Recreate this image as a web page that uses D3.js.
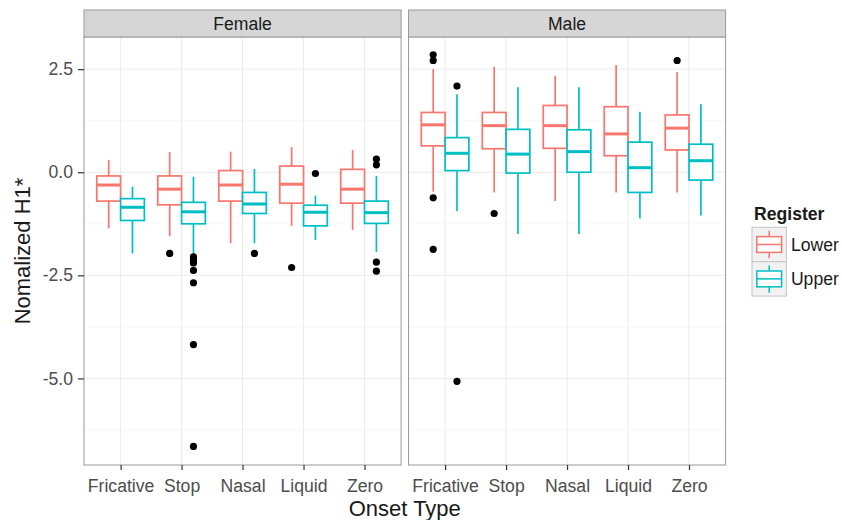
<!DOCTYPE html>
<html>
<head>
<meta charset="utf-8">
<script src="https://cdn.jsdelivr.net/npm/d3@7"></script>
<style>
  body { margin: 0; background: #fff; }
  svg { display: block; font-family: 'Liberation Sans', Arial, Helvetica, sans-serif; }
</style>
</head>
<body>
<div id="chart"></div>
<script>
const sexes = ['Female', 'Male'];
const onsets = ['Fricative', 'Stop', 'Nasal', 'Liquid', 'Zero'];
const registers = ['Lower', 'Upper'];
const colors = ['#F8766D', '#00BFC4'];
const yTicks = [-5, -2.5, 0, 2.5];
const yMinor = [-6.25, -3.75, -1.25, 1.25];

// [lower whisker, Q1, median, Q3, upper whisker], one row per onset type
const femaleLower = [
  [-1.36, -0.70, -0.31, -0.09, 0.30],
  [-1.55, -0.79, -0.41, -0.09, 0.49],
  [-1.72, -0.70, -0.31, 0.04, 0.50],
  [-1.30, -0.75, -0.29, 0.15, 0.61],
  [-1.40, -0.75, -0.41, 0.07, 0.54],
];
const femaleUpper = [
  [-1.97, -1.17, -0.85, -0.64, -0.35],
  [-2.00, -1.25, -0.96, -0.73, -0.11],
  [-1.72, -1.00, -0.77, -0.49, 0.08],
  [-1.64, -1.30, -0.97, -0.80, -0.57],
  [-1.93, -1.24, -0.98, -0.70, -0.09],
];
const maleLower = [
  [-0.47, 0.64, 1.15, 1.45, 2.50],
  [-0.49, 0.57, 1.13, 1.45, 2.56],
  [-0.70, 0.58, 1.13, 1.62, 2.34],
  [-0.49, 0.40, 0.93, 1.59, 2.60],
  [-0.49, 0.54, 1.07, 1.39, 2.43],
];
const maleUpper = [
  [-0.94, 0.04, 0.46, 0.84, 1.89],
  [-1.50, -0.02, 0.44, 1.04, 2.06],
  [-1.50, 0.00, 0.50, 1.03, 2.06],
  [-1.12, -0.49, 0.11, 0.73, 1.47],
  [-1.05, -0.19, 0.28, 0.68, 1.65],
];

// outliers per onset type
const femaleLowerOut = [[], [-1.97], [], [-2.31], []];
const femaleUpperOut = [[], [-2.05, -2.1, -2.15, -2.2, -2.38, -2.68, -4.18, -6.65], [-1.97], [-0.03], [0.32, 0.18, -2.18, -2.40]];
const maleLowerOut = [[2.85, 2.71, -0.62, -1.87], [-1.0], [], [], [2.71]];
const maleUpperOut = [[2.09, -5.07], [], [], [], []];

const stats = { Female: [femaleLower, femaleUpper], Male: [maleLower, maleUpper] };
const outs = { Female: [femaleLowerOut, femaleUpperOut], Male: [maleLowerOut, maleUpperOut] };

const w = 842;
const h = 520;
const panelTop = 37;
const panelBottom = 465;
const stripTop = 10;
const font = 17.6;
const textCol = '#4d4d4d';

const svg = d3.select('#chart').append('svg').attr('width', w).attr('height', h);

const facet = d3.scaleBand().domain(sexes).range([84, 725.6]).paddingInner(0.0228);
const pw = facet.bandwidth();
const y = d3.scaleLinear().domain([-7.1, 3.28]).range([panelBottom, panelTop]);
const x = d3.scalePoint().domain(onsets).range([0, pw]).padding(0.6);
const boxW = (x.step() * 0.78) / 2;
const off = i => (i - 0.5) * boxW;

sexes.forEach(sex => {
  const g = svg.append('g').attr('transform', 'translate(' + facet(sex) + ',0)');

  // grid
  g.selectAll('.minor')
    .data(yMinor)
    .join('line')
    .attr('x1', 0).attr('x2', pw)
    .attr('y1', d => y(d)).attr('y2', d => y(d))
    .attr('stroke', '#f5f5f5').attr('stroke-width', 0.8);
  g.selectAll('.major')
    .data(yTicks)
    .join('line')
    .attr('x1', 0).attr('x2', pw)
    .attr('y1', d => y(d)).attr('y2', d => y(d))
    .attr('stroke', '#ebebeb').attr('stroke-width', 1);
  g.selectAll('.vmajor')
    .data(onsets)
    .join('line')
    .attr('x1', d => x(d)).attr('x2', d => x(d))
    .attr('y1', panelTop).attr('y2', panelBottom)
    .attr('stroke', '#ebebeb').attr('stroke-width', 1);

  registers.forEach((reg, ri) => {
    const color = colors[ri];
    const rows = onsets.map((o, oi) => ({
      cx: x(o) + off(ri),
      s: stats[sex][ri][oi],
      out: outs[sex][ri][oi],
    }));
    const bg = g.append('g').attr('class', 'box ' + reg);

    bg.selectAll('.whisker-lo')
      .data(rows)
      .join('line')
      .attr('x1', d => d.cx).attr('x2', d => d.cx)
      .attr('y1', d => y(d.s[0])).attr('y2', d => y(d.s[1]))
      .attr('stroke', color).attr('stroke-width', 1.7);
    bg.selectAll('.whisker-hi')
      .data(rows)
      .join('line')
      .attr('x1', d => d.cx).attr('x2', d => d.cx)
      .attr('y1', d => y(d.s[3])).attr('y2', d => y(d.s[4]))
      .attr('stroke', color).attr('stroke-width', 1.7);
    bg.selectAll('rect')
      .data(rows)
      .join('rect')
      .attr('x', d => d.cx - boxW / 2)
      .attr('width', boxW)
      .attr('y', d => y(d.s[3]))
      .attr('height', d => y(d.s[1]) - y(d.s[3]))
      .attr('fill', '#fff')
      .attr('stroke', color).attr('stroke-width', 1.7);
    bg.selectAll('.median')
      .data(rows)
      .join('line')
      .attr('x1', d => d.cx - boxW / 2).attr('x2', d => d.cx + boxW / 2)
      .attr('y1', d => y(d.s[2])).attr('y2', d => y(d.s[2]))
      .attr('stroke', color).attr('stroke-width', 3);
    bg.selectAll('circle')
      .data(rows.flatMap(d => d.out.map(v => ({ cx: d.cx, v }))))
      .join('circle')
      .attr('cx', d => d.cx)
      .attr('cy', d => y(d.v))
      .attr('r', 3.6)
      .attr('fill', '#000');
  });

  // panel border
  g.append('rect')
    .attr('x', 0).attr('y', panelTop)
    .attr('width', pw).attr('height', panelBottom - panelTop)
    .attr('fill', 'none').attr('stroke', '#9a9a9a').attr('stroke-width', 1);

  // strip
  g.append('rect')
    .attr('x', 0).attr('y', stripTop)
    .attr('width', pw).attr('height', panelTop - stripTop)
    .attr('fill', '#d6d6d6').attr('stroke', '#9a9a9a').attr('stroke-width', 1);
  g.append('text')
    .attr('x', pw / 2).attr('y', (stripTop + panelTop) / 2)
    .attr('dy', '0.35em')
    .attr('text-anchor', 'middle')
    .attr('font-size', font)
    .attr('fill', '#1a1a1a')
    .text(sex);

  // x axis
  g.append('g')
    .attr('transform', 'translate(0,' + panelBottom + ')')
    .call(d3.axisBottom(x).tickSize(5).tickSizeOuter(0).tickPadding(10))
    .call(a => a.select('.domain').remove())
    .call(a => a.selectAll('line').attr('stroke', '#333').attr('stroke-width', 1.2))
    .call(a => a.selectAll('text').attr('font-size', font).attr('fill', textCol).attr('font-family', null));
});

// y axis
svg.append('g')
  .attr('transform', 'translate(' + facet('Female') + ',0)')
  .call(d3.axisLeft(y).tickValues(yTicks).tickFormat(d => d.toFixed(1)).tickSize(6).tickPadding(5))
  .call(a => a.select('.domain').remove())
  .call(a => a.selectAll('line').attr('stroke', '#333').attr('stroke-width', 1.2))
  .call(a => a.selectAll('text').attr('font-size', font).attr('fill', textCol).attr('font-family', null));

// axis titles
svg.append('text')
  .attr('x', (facet('Female') + facet('Male') + pw) / 2)
  .attr('y', 516)
  .attr('text-anchor', 'middle')
  .attr('font-size', 22)
  .attr('fill', '#1a1a1a')
  .text('Onset Type');
svg.append('text')
  .attr('transform', 'translate(30,' + (panelTop + panelBottom) / 2 + ') rotate(-90)')
  .attr('text-anchor', 'middle')
  .attr('font-size', 22)
  .attr('fill', '#1a1a1a')
  .text('Nomalized H1*');

// legend
const legend = svg.append('g').attr('transform', 'translate(752,0)');
legend.append('text')
  .attr('x', 2).attr('y', 220)
  .attr('font-size', font)
  .attr('font-weight', 'bold')
  .attr('fill', '#1a1a1a')
  .text('Register');
const key = 34.4;
registers.forEach((reg, i) => {
  const k = legend.append('g').attr('transform', 'translate(0,' + (227.3 + i * key) + ')');
  k.append('rect')
    .attr('width', key).attr('height', key)
    .attr('fill', '#f2f2f2').attr('stroke', '#c4c4c4').attr('stroke-width', 1);
  k.append('line')
    .attr('x1', key / 2).attr('x2', key / 2)
    .attr('y1', key * 0.1).attr('y2', key * 0.9)
    .attr('stroke', colors[i]).attr('stroke-width', 1.5);
  k.append('rect')
    .attr('x', key * 0.14).attr('width', key * 0.72)
    .attr('y', key * 0.27).attr('height', key * 0.46)
    .attr('fill', '#fff').attr('stroke', colors[i]).attr('stroke-width', 1.5);
  k.append('line')
    .attr('x1', key * 0.14).attr('x2', key * 0.86)
    .attr('y1', key / 2).attr('y2', key / 2)
    .attr('stroke', colors[i]).attr('stroke-width', 1.5);
  k.append('text')
    .attr('x', key + 4.5).attr('y', key / 2)
    .attr('dy', '0.35em')
    .attr('font-size', font)
    .attr('fill', '#1a1a1a')
    .text(reg);
});
</script>
</body>
</html>
